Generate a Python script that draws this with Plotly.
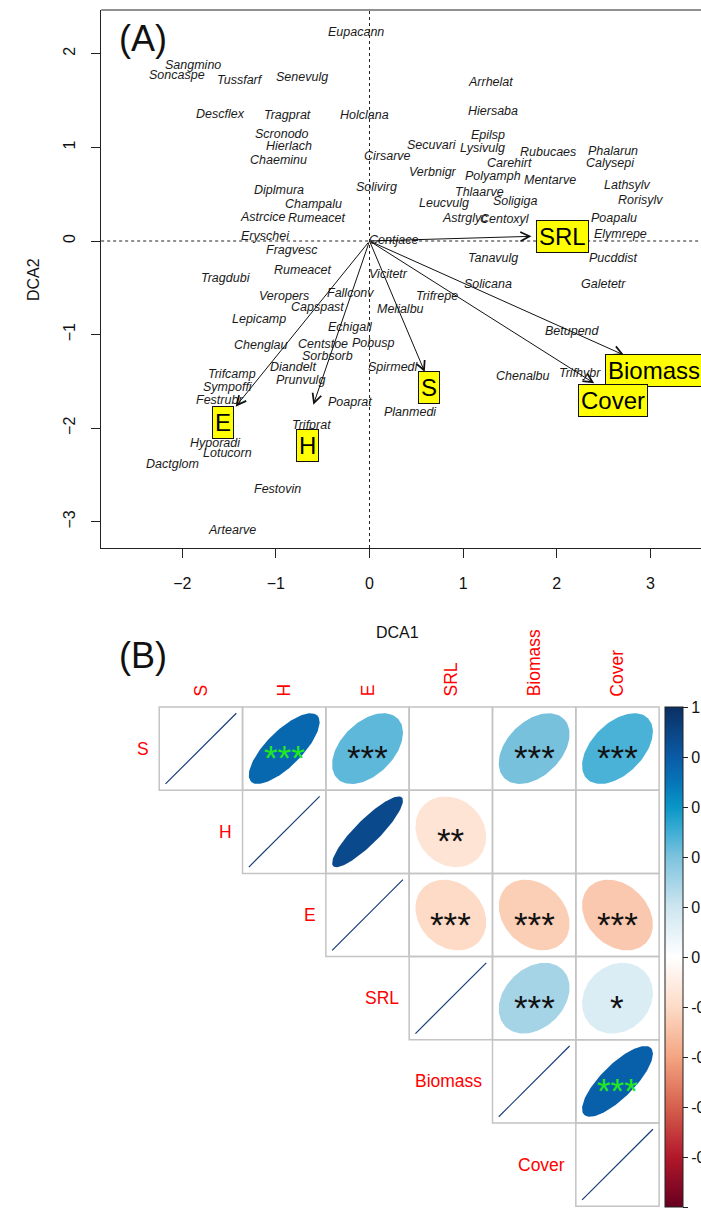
import numpy as np
import plotly.graph_objects as go

# ---------------- Panel A: DCA ordination ----------------
species = ["Eupacann", "Sangmino", "Soncaspe", "Tussfarf", "Senevulg", "Arrhelat",
           "Descflex", "Tragprat", "Holclana", "Hiersaba", "Scronodo", "Hierlach",
           "Chaeminu", "Cirsarve", "Epilsp", "Secuvari", "Lysivulg", "Rubucaes",
           "Phalarun", "Carehirt", "Calysepi", "Verbnigr", "Polyamph", "Mentarve",
           "Lathsylv", "Diplmura", "Solivirg", "Thlaarve", "Rorisylv", "Leucvulg",
           "Soligiga", "Champalu", "Astrcice", "Rumeacet", "Astrglyc", "Centoxyl",
           "Poapalu", "Eryschei", "Centjace", "Elymrepe", "Fragvesc", "Tanavulg",
           "Pucddist", "Rumeacet", "Tragdubi", "Vicitetr", "Solicana", "Galetetr",
           "Fallconv", "Veropers", "Trifrepe", "Capspast", "Melialbu", "Lepicamp",
           "Echigall", "Betupend", "Chenglau", "Centstoe", "Pobusp", "Sorbsorb",
           "Diandelt", "Spirmedi", "Prunvulg", "Chenalbu", "Trifhybr", "Trifcamp",
           "Sympoffi", "Festrubr", "Poaprat", "Planmedi", "Trifprat", "Hyporadi",
           "Lotucorn", "Dactglom", "Festovin", "Artearve"]
sp_x = [-0.14, -1.89, -2.06, -1.38, -0.72, 1.29,
        -1.59, -0.88, -0.05, 1.32, -0.93, -0.86,
        -0.97, 0.19, 1.26, 0.67, 1.21, 1.91,
        2.60, 1.49, 2.57, 0.68, 1.32, 1.93,
        2.76, -0.97, 0.07, 1.17, 2.89, 0.80,
        1.56, -0.60, -1.14, -0.57, 1.02, 1.45,
        2.61, -1.11, 0.26, 2.68, -0.83, 1.32,
        2.60, -0.72, -1.53, 0.20, 1.26, 2.50,
        -0.20, -0.91, 0.72, -0.56, 0.33, -1.18,
        -0.20, 2.17, -1.16, -0.50, 0.04, -0.45,
        -0.82, 0.26, -0.74, 1.64, 2.25, -1.47,
        -1.51, -1.60, -0.21, 0.44, -0.62, -1.64,
        -1.52, -2.10, -0.98, -1.47]
sp_y = [2.23, 1.88, 1.77, 1.72, 1.75, 1.70,
        1.36, 1.35, 1.35, 1.39, 1.14, 1.01,
        0.87, 0.91, 1.13, 1.03, 0.99, 0.95,
        0.96, 0.83, 0.83, 0.74, 0.69, 0.65,
        0.60, 0.54, 0.58, 0.52, 0.44, 0.41,
        0.43, 0.40, 0.26, 0.25, 0.25, 0.24,
        0.25, 0.05, 0.01, 0.07, -0.10, -0.18,
        -0.18, -0.31, -0.40, -0.35, -0.46, -0.46,
        -0.56, -0.59, -0.59, -0.71, -0.73, -0.83,
        -0.92, -0.96, -1.11, -1.10, -1.09, -1.23,
        -1.35, -1.35, -1.49, -1.44, -1.41, -1.42,
        -1.56, -1.70, -1.72, -1.83, -1.97, -2.16,
        -2.26, -2.38, -2.65, -3.09]

# fitted trait vectors (arrow tips) and their label positions
traits = ["SRL", "Biomass", "Cover", "S", "H", "E"]
vec_x = [1.73, 2.72, 2.40, 0.59, -0.60, -1.43]
vec_y = [0.05, -1.22, -1.52, -1.40, -1.75, -1.77]
lab_x = [2.06, 3.04, 2.60, 0.64, -0.66, -1.57]
lab_y = [0.05, -1.38, -1.70, -1.57, -2.19, -1.94]

x_ticks = [-2, -1, 0, 1, 2, 3]
y_ticks = [-3, -2, -1, 0, 1, 2]

# ---------------- Panel B: correlation matrix ----------------
variables = ["S", "H", "E", "SRL", "Biomass", "Cover"]
# upper triangle; None = non-significant (left blank)
corr = [
    [1.00, 0.75, 0.45, None, 0.41, 0.48],
    [None, 1.00, 0.88, -0.15, None, None],
    [None, None, 1.00, -0.20, -0.25, -0.27],
    [None, None, None, 1.00, 0.30, 0.15],
    [None, None, None, None, 1.00, 0.78],
    [None, None, None, None, None, 1.00],
]
stars = [
    ["", "***", "***", "", "***", "***"],
    ["", "", "", "**", "", ""],
    ["", "", "", "***", "***", "***"],
    ["", "", "", "", "***", "*"],
    ["", "", "", "", "", "***"],
    ["", "", "", "", "", ""],
]
highlight = {(0, 1), (4, 5)}

cbar_ticks = [-1, -0.8, -0.6, -0.4, -0.2, 0, 0.2, 0.4, 0.6, 0.8, 1]
palette_pos = [-1.0, -0.8, -0.6, -0.4, -0.2, 0.0, 0.2, 0.4, 0.5, 0.6, 0.7, 0.8, 1.0]
palette_col = ["#67001F", "#B2182B", "#D6604D", "#F4A582", "#FDDBC7", "#FFFFFF",
               "#CDE6F0", "#7DC3DE", "#3FAED5", "#0A96C6", "#0675B8", "#0A5BA6", "#0B2F63"]

FONT = "Liberation Sans, Arial, sans-serif"
W, H = 701, 1214          # design frame (pixel positions below refer to it)
FIG_W = 720               # layout width of the figure

# pixel geometry in the design frame
A_left, A_top, A_bottom = 101, 10, 548
x0_px, x_unit = 369, 93.5
y0_px, y_unit = 241, 93.6
xr = [(A_left - x0_px) / x_unit, (W - x0_px) / x_unit]
yr = [-(A_bottom - y0_px) / y_unit, (y0_px - A_top) / y_unit]

B_left, B_top, cell = 159, 707, 83.2
B_ytop_px = 600


def hex2rgb(h):
    h = h.lstrip("#")
    return np.array([int(h[i:i + 2], 16) for i in (0, 2, 4)], dtype=float)


def value_color(v):
    cols = [hex2rgb(c) for c in palette_col]
    rgb = np.array([np.interp(v, palette_pos, [c[k] for c in cols]) for k in range(3)])
    return "rgb(%d,%d,%d)" % tuple(np.round(rgb).astype(int))


def ellipse(r, cx, cy, n=120):
    k = np.linspace(0, 2 * np.pi, n)
    phi = np.arccos(np.clip(r, -1, 1)) / 2
    return cx + 0.85 * np.cos(k + phi) / 2, cy + 0.85 * np.cos(k - phi) / 2


fig = go.Figure()
annotations = []
shapes = []

# species labels
for name, x, y in zip(species, sp_x, sp_y):
    annotations.append(dict(x=x, y=y, xref="x", yref="y", text=name, showarrow=False,
                            font=dict(family=FONT, size=12.5, color="#1a1a1a", style="italic")))

# trait arrows from origin
for x, y in zip(vec_x, vec_y):
    annotations.append(dict(x=x, y=y, ax=0, ay=0, xref="x", yref="y", axref="x", ayref="y",
                            text="", showarrow=True, arrowhead=5, arrowsize=1.8,
                            arrowwidth=1, arrowcolor="#111111", standoff=0, startstandoff=0))

# trait labels in yellow boxes
for name, x, y in zip(traits, lab_x, lab_y):
    annotations.append(dict(x=x, y=y, xref="x", yref="y", text=name, showarrow=False,
                            bgcolor="#FFFF00", bordercolor="#111111", borderwidth=1, borderpad=2,
                            font=dict(family=FONT, size=24, color="#000000")))

# dummy trace to establish panel A axes
fig.add_trace(go.Scatter(x=[0], y=[0], mode="markers", marker=dict(size=1, opacity=0),
                         hoverinfo="skip", showlegend=False, xaxis="x", yaxis="y"))

# dotted reference lines through origin
shapes.append(dict(type="line", xref="x", yref="y domain", x0=0, x1=0, y0=0, y1=1,
                   line=dict(color="#222222", width=1, dash="dot")))
shapes.append(dict(type="line", xref="x domain", yref="y", x0=0, x1=1, y0=0, y1=0,
                   line=dict(color="#222222", width=1, dash="dot")))
# top frame line
shapes.append(dict(type="line", xref="x domain", yref="y domain", x0=0, x1=1, y0=1, y1=1,
                   line=dict(color="#222222", width=1)))

# ---- correlation matrix cells ----
n = len(variables)
for i in range(n):
    for j in range(i, n):
        cx, cy = j + 1, n - i
        shapes.append(dict(type="rect", xref="x2", yref="y2",
                           x0=cx - 0.5, x1=cx + 0.5, y0=cy - 0.5, y1=cy + 0.5,
                           line=dict(color="#C4C4C4", width=1.5), layer="below"))
        r = corr[i][j]
        if r is None:
            continue
        if i == j:
            ex, ey = ellipse(1.0, cx, cy)
            fig.add_trace(go.Scatter(x=[ex.min(), ex.max()], y=[ey.min(), ey.max()], mode="lines",
                                     line=dict(color="#173E78", width=1.2), hoverinfo="skip",
                                     showlegend=False, xaxis="x2", yaxis="y2"))
        else:
            ex, ey = ellipse(r, cx, cy)
            fig.add_trace(go.Scatter(x=ex, y=ey, mode="lines", fill="toself",
                                     fillcolor=value_color(r), line=dict(width=0),
                                     hoverinfo="skip", showlegend=False,
                                     xaxis="x2", yaxis="y2"))
        s = stars[i][j]
        if s:
            col = "#22E822" if (i, j) in highlight else "#111111"
            annotations.append(dict(x=cx, y=cy, xref="x2", yref="y2", text=s, showarrow=False,
                                    yshift=-9, font=dict(family=FONT, size=35, color=col)))

# row and column labels
for i, v in enumerate(variables):
    annotations.append(dict(x=i + 1 - 0.6, y=n - i, xref="x2", yref="y2", text=v,
                            showarrow=False, xanchor="right", yanchor="middle",
                            font=dict(family=FONT, size=17.5, color="#FF0000")))
    annotations.append(dict(x=i + 1, y=n + 0.6, xref="x2", yref="y2", text=v,
                            showarrow=False, textangle=-90, yanchor="bottom", xanchor="center",
                            font=dict(family=FONT, size=17.5, color="#FF0000")))

# colour bar
cb_top, cb_bottom = 707, 1207
fig.add_trace(go.Scatter(
    x=[0], y=[0], mode="markers", xaxis="x2", yaxis="y2", hoverinfo="skip", showlegend=False,
    marker=dict(size=0.1, opacity=0, color=[0], cmin=-1, cmax=1,
                colorscale=[[(p + 1) / 2, c] for p, c in zip(palette_pos, palette_col)],
                showscale=True,
                colorbar=dict(x=664 / W, xanchor="left", xpad=0, ypad=0,
                              y=1 - (cb_top + cb_bottom) / 2 / H, yanchor="middle",
                              lenmode="pixels", len=cb_bottom - cb_top,
                              thickness=18, outlinewidth=1, outlinecolor="#222222",
                              tickvals=cbar_ticks, ticktext=[f"{t:g}" for t in cbar_ticks],
                              ticks="outside", ticklen=5, tickcolor="#222222",
                              tickfont=dict(family=FONT, size=16, color="#111111")))))

# panel titles and axis titles
annotations += [
    dict(x=143 / W, y=1 - 38 / H, xref="paper", yref="paper", text="(A)", showarrow=False,
         xanchor="center", yanchor="middle", font=dict(family=FONT, size=36, color="#111111")),
    dict(x=143 / W, y=1 - 655 / H, xref="paper", yref="paper", text="(B)", showarrow=False,
         xanchor="center", yanchor="middle", font=dict(family=FONT, size=36, color="#111111")),
    dict(x=33 / W, y=1 - 280 / H, xref="paper", yref="paper", text="DCA2", showarrow=False,
         xanchor="center", yanchor="middle", textangle=-90,
         font=dict(family=FONT, size=16, color="#111111")),
    dict(x=397 / W, y=1 - 632 / H, xref="paper", yref="paper", text="DCA1", showarrow=False,
         xanchor="center", yanchor="middle", font=dict(family=FONT, size=16, color="#111111")),
]

x2r = [0.5 - B_left / cell, 0.5 + (W - B_left) / cell]
y2r = [n + 0.5 - (H - B_top) / cell, n + 0.5 + (B_top - B_ytop_px) / cell]

fig.update_layout(
    width=FIG_W, height=H, autosize=False, margin=dict(l=0, r=0, t=0, b=0, pad=0),
    paper_bgcolor="white", plot_bgcolor="rgba(0,0,0,0)",
    showlegend=False, annotations=annotations, shapes=shapes,
    xaxis=dict(domain=[A_left / W, 1.0], range=xr, tickvals=x_ticks,
               ticktext=["\u22122", "\u22121", "0", "1", "2", "3"],
               ticks="outside", ticklen=9, tickcolor="#222222", showline=True,
               linecolor="#222222", linewidth=1, showgrid=False, zeroline=False,
               ticklabelstandoff=12, tickfont=dict(family=FONT, size=16, color="#111111"),
               anchor="y"),
    yaxis=dict(domain=[1 - A_bottom / H, 1 - A_top / H], range=yr, tickvals=y_ticks,
               ticks="outside", ticklen=9, tickcolor="#222222", showline=True,
               linecolor="#222222", linewidth=1, showgrid=False, zeroline=False,
               tickangle=-90, ticklabelstandoff=10,
               tickfont=dict(family=FONT, size=16, color="#111111"), anchor="x"),
    xaxis2=dict(domain=[0, 1], range=x2r, visible=False, anchor="y2"),
    yaxis2=dict(domain=[0, 1 - B_ytop_px / H], range=y2r, visible=False, anchor="x2"),
)

fig.write_html("out.html")
